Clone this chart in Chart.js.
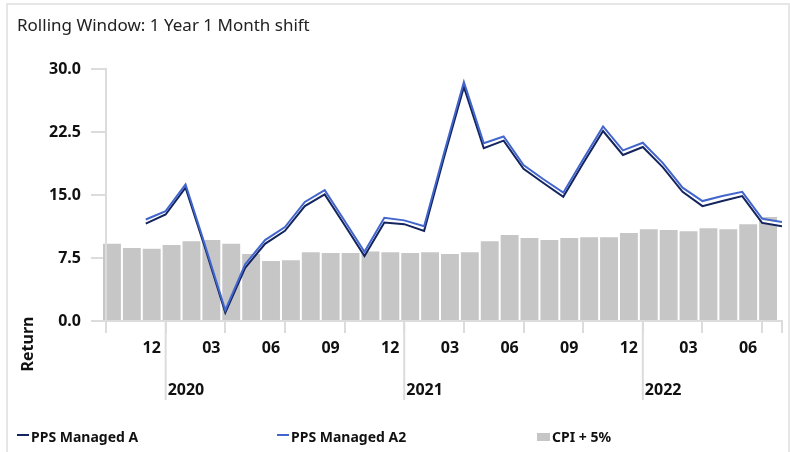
<!DOCTYPE html>
<html>
<head>
<meta charset="utf-8">
<script src="https://cdn.jsdelivr.net/npm/chart.js@4"></script>
<style>
  body { margin: 0; background: #fff; font-family: "Noto Sans", sans-serif; }
  #frame { position: absolute; left: 6px; top: 3px; width: 780px; height: 470px; border: 2px solid #e6e6e6; border-bottom: none; }
  #grafica { position: absolute; left: 0; top: 0; }
  #legend { position: absolute; left: 17px; top: 427px; display: flex; }
  .item { width: 260px; display: flex; align-items: center; font-weight: bold; font-size: 14px; line-height: 19px; color: #111; }
  .mark { display: inline-block; margin-right: 2px; }
</style>
</head>
<body>
<div id="frame"></div>
<canvas id="grafica" width="790" height="452"></canvas>
<div id="legend"></div>
<script>
const months = ['2019-10', '2019-11', '2019-12',
    '2020-01', '2020-02', '2020-03', '2020-04', '2020-05', '2020-06', '2020-07', '2020-08', '2020-09', '2020-10', '2020-11', '2020-12',
    '2021-01', '2021-02', '2021-03', '2021-04', '2021-05', '2021-06', '2021-07', '2021-08', '2021-09', '2021-10', '2021-11', '2021-12',
    '2022-01', '2022-02', '2022-03', '2022-04', '2022-05', '2022-06', '2022-07', '2022-08']

const cpiPlus5 = [9.2, 8.7, 8.6, 9.05, 9.5, 9.65, 9.2, 8.0, 7.15, 7.25, 8.2, 8.1, 8.1, 8.3, 8.2,
    8.1, 8.2, 8.0, 8.2, 9.5, 10.25, 9.9, 9.65, 9.9, 10.0, 10.0, 10.5,
    10.95, 10.85, 10.7, 11.05, 10.95, 11.55, 12.4, null]

const managedA = [null, null, 11.6, 12.7, 15.9, 8.6, 1.0, 6.35, 9.2, 10.75, 13.7, 15.1, 11.45, 7.75, 11.75,
    11.55, 10.75, 19.5, 27.9, 20.6, 21.5, 18.15, 16.45, 14.8, 18.8, 22.65, 19.8,
    20.75, 18.35, 15.4, 13.7, 14.3, 14.9, 11.7, 11.3]

const managedA2 = [null, null, 12.1, 13.1, 16.3, 8.9, 1.3, 6.75, 9.65, 11.2, 14.2, 15.6, 11.95, 8.25, 12.3,
    12.0, 11.3, 20.0, 28.5, 21.2, 22.0, 18.6, 16.9, 15.3, 19.3, 23.2, 20.35,
    21.25, 18.85, 15.9, 14.3, 14.9, 15.4, 12.2, 11.8]

const axisGrey = '#dcdcdc';
const fontFamily = '"Noto Sans", sans-serif';
const barShift = 0.3;   // bars sit a little after the month start

const graph = document.querySelector('#grafica');

// white halo under the dark line, year row and axis title
const extras = {
    id: 'extras',
    beforeDatasetDraw(chart, args) {
        if (args.index === 0) {
            chart.ctx.save();
            chart.ctx.shadowColor = '#fff';
            chart.ctx.shadowOffsetY = -2;
        }
    },
    afterDatasetDraw(chart, args) {
        if (args.index === 0) chart.ctx.restore();
    },
    afterDraw(chart) {
        const ctx = chart.ctx;
        const x = chart.scales.x;
        ctx.save();
        ctx.strokeStyle = axisGrey;
        ctx.lineWidth = 2;
        ctx.fillStyle = '#111';
        ctx.font = 'bold 16px ' + fontFamily;
        months.forEach((m, i) => {
            if (!m.endsWith('-01')) return;
            const px = x.getPixelForValue(i);
            ctx.beginPath();
            ctx.moveTo(px, x.top);
            ctx.lineTo(px, x.top + 79);
            ctx.stroke();
            ctx.fillText(m.slice(0, 4), px + 2, x.top + 74);
        });
        ctx.translate(28, 344);
        ctx.rotate(-Math.PI / 2);
        ctx.textAlign = 'center';
        ctx.textBaseline = 'middle';
        ctx.fillText('Return', 0, 0);
        ctx.restore();
    }
};

const data = {
    datasets: [{
        type: 'line',
        label: 'PPS Managed A',
        data: managedA.map((v, i) => ({ x: i, y: v })),
        borderColor: '#14245e',
        backgroundColor: '#14245e',
        borderWidth: 2,
        pointRadius: 0,
        order: 1
    },
    {
        type: 'line',
        label: 'PPS Managed A2',
        data: managedA2.map((v, i) => ({ x: i, y: v })),
        borderColor: '#4266cc',
        backgroundColor: '#4266cc',
        borderWidth: 2,
        pointRadius: 0,
        order: 0
    },
    {
        type: 'bar',
        label: 'CPI + 5%',
        data: cpiPlus5.map((v, i) => ({ x: i + barShift, y: v })),
        backgroundColor: '#c6c6c6',
        barPercentage: 0.9,
        categoryPercentage: 1,
        clip: false,
        order: 2
    }]
};

const tickFont = { family: fontFamily, size: 16, weight: 'bold' };

const config = {
    data: data,
    options: {
        responsive: false,
        animation: false,
        layout: { padding: { left: 17, right: 8, top: 0, bottom: 41 } },
        plugins: {
            legend: { display: false },
            tooltip: { enabled: false },
            title: {
                display: true,
                text: 'Rolling Window: 1 Year 1 Month shift',
                align: 'start',
                color: '#222',
                font: { family: fontFamily, size: 17, weight: 'normal' },
                padding: { top: 16, bottom: 33 }
            }
        },
        scales: {
            x: {
                type: 'linear',
                offset: false,
                min: 0,
                max: months.length - 1,
                afterBuildTicks: s => {
                    s.ticks = months.map((m, i) => i)
                        .filter(i => ['01', '04', '07', '10'].includes(months[i].slice(5)) || i === months.length - 1)
                        .map(v => ({ value: v }));
                },
                afterFit: s => { s.height = 90; },
                ticks: {
                    autoSkip: false,
                    maxRotation: 0,
                    labelOffset: -14,
                    padding: 6,
                    color: '#111',
                    font: tickFont,
                    callback: v => (v > 0 && v < months.length - 1) ? months[v - 1].slice(5) : ''
                },
                grid: { offset: false, drawOnChartArea: false, tickLength: 12, color: axisGrey, lineWidth: 2 },
                border: { color: axisGrey, width: 2, z: 1 }
            },
            y: {
                min: 0,
                max: 30,
                afterFit: s => { s.width = 89; },
                ticks: {
                    stepSize: 7.5,
                    padding: 10,
                    color: '#111',
                    font: tickFont,
                    callback: v => v.toFixed(1)
                },
                grid: { drawOnChartArea: false, tickLength: 15, color: axisGrey, lineWidth: 2 },
                border: { color: axisGrey, width: 2, z: 1 }
            }
        }
    },
    plugins: [extras]
};

const chart = new Chart(graph, config);

// legend in three even columns
const legendBox = document.querySelector('#legend');
chart.data.datasets.forEach(ds => {
    const item = document.createElement('div');
    item.className = 'item';
    const mark = document.createElement('span');
    mark.className = 'mark';
    if (ds.type === 'bar') {
        mark.style.cssText = 'width:13px;height:8px;background:' + ds.backgroundColor;
    } else {
        mark.style.cssText = 'width:12px;height:2px;margin-bottom:3px;background:' + ds.borderColor;
    }
    const text = document.createElement('span');
    text.textContent = ds.label;
    item.append(mark, text);
    legendBox.append(item);
});
</script>
</body>
</html>
